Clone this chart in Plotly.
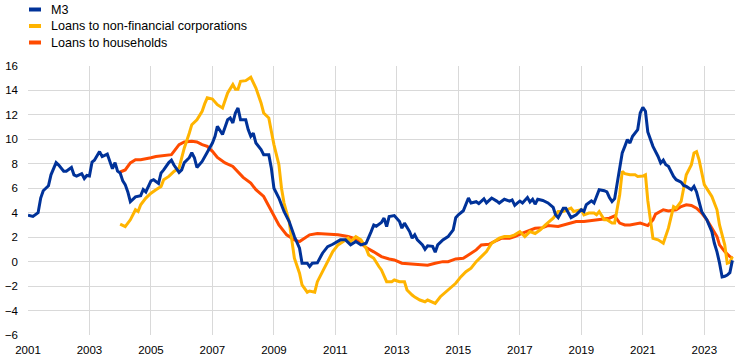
import plotly.graph_objects as go

# ---------------- data (annual growth rates, %) ----------------
m3_dates = ["2001-01","2001-03","2001-05","2001-06","2001-07","2001-09","2001-10","2001-12",
            "2002-01","2002-03","2002-04","2002-06","2002-07","2002-08","2002-10","2002-11","2002-12",
            "2003-01","2003-02","2003-03","2003-05","2003-06","2003-08","2003-09","2003-10","2003-11","2003-12",
            "2004-01","2004-02","2004-03","2004-04","2004-05","2004-07","2004-09","2004-10","2004-11",
            "2005-01","2005-02","2005-04","2005-05","2005-06","2005-08","2005-09","2005-10","2005-12",
            "2006-01","2006-02","2006-04","2006-05","2006-06","2006-07","2006-09","2006-10",
            "2007-01","2007-02","2007-03","2007-05","2007-06","2007-07","2007-08","2007-09","2007-10","2007-11","2007-12",
            "2008-02","2008-03","2008-04","2008-05","2008-06","2008-08","2008-09","2008-11","2008-12",
            "2009-01","2009-03","2009-05","2009-07","2009-09","2009-11","2009-12",
            "2010-02","2010-03","2010-04","2010-06","2010-08","2010-10","2010-12",
            "2011-03","2011-05","2011-07","2011-09","2011-11",
            "2012-01","2012-03","2012-04","2012-05","2012-07","2012-08","2012-09","2012-10","2012-12",
            "2013-02","2013-03","2013-04","2013-06","2013-07","2013-08","2013-09","2013-11","2013-12",
            "2014-01","2014-03","2014-04","2014-05","2014-07","2014-09","2014-11","2014-12",
            "2015-01","2015-03","2015-04","2015-05","2015-06","2015-08","2015-09","2015-11","2015-12",
            "2016-02","2016-04","2016-05","2016-07","2016-09","2016-10","2016-11","2016-12",
            "2017-01","2017-02","2017-04","2017-05","2017-06","2017-07","2017-08","2017-10","2017-12",
            "2018-02","2018-03","2018-04","2018-06","2018-07","2018-09","2018-11",
            "2019-01","2019-02","2019-03","2019-05","2019-06","2019-07","2019-08","2019-10","2019-11","2019-12",
            "2020-01","2020-02","2020-04","2020-05","2020-06","2020-07","2020-08","2020-09","2020-11","2020-12",
            "2021-01","2021-02","2021-03","2021-05","2021-07","2021-08","2021-09","2021-10","2021-11",
            "2022-01","2022-02","2022-04","2022-05","2022-06","2022-08","2022-09","2022-10","2022-11","2022-12",
            "2023-02","2023-04","2023-05","2023-06","2023-07","2023-08","2023-09","2023-10","2023-11","2023-12"]
m3_values = [3.8,3.7,4.0,5.2,5.8,6.2,7.1,8.1,
             7.9,7.4,7.4,7.7,7.1,7.0,7.2,6.8,7.05,
             7.0,8.15,8.3,9.0,8.6,8.8,8.1,7.6,8.1,7.4,
             7.25,6.6,6.3,5.7,4.9,5.3,5.4,5.9,5.7,
             6.6,6.7,6.4,7.25,7.5,8.1,8.3,7.9,7.3,
             7.5,8.1,8.5,8.9,8.5,7.7,8.2,8.6,
             9.7,10.25,11.07,10.4,11.07,11.6,11.75,11.34,12.16,12.57,11.6,
             11.6,10.8,10.25,10.5,9.7,9.16,8.75,8.75,7.65,
             6.0,5.2,4.1,3.28,2.05,1.1,-0.13,
             -0.13,-0.4,-0.13,-0.1,0.69,1.23,1.42,
             1.78,1.78,1.37,1.64,1.37,
             1.5,2.46,3.0,2.9,3.2,3.56,2.87,3.69,3.77,
             3.28,2.74,3.15,2.46,1.92,2.19,1.78,1.37,1.01,
             1.3,1.25,0.77,1.37,1.78,2.05,2.6,3.6,
             3.83,4.16,4.65,5.2,4.79,4.9,4.75,5.14,4.8,
             5.2,4.95,4.79,5.1,4.95,5.05,4.6,4.79,
             4.95,4.8,5.25,4.88,5.1,4.7,5.1,5.0,4.8,
             4.43,3.83,3.6,4.37,4.37,3.6,3.83,
             4.24,4.1,4.65,4.97,4.8,5.33,5.88,5.8,5.7,5.25,
             4.92,5.15,7.65,8.89,9.43,9.98,9.7,10.25,10.8,12.16,
             12.62,12.3,10.6,9.43,8.6,8.07,8.3,7.93,7.8,
             6.97,6.7,6.5,6.23,6.15,5.88,6.15,5.7,4.79,4.1,
             3.42,2.46,1.5,0.8,-0.1,-1.25,-1.2,-1.1,-0.9,0.1]

nfc_dates = ["2004-01","2004-03","2004-05","2004-07","2004-08","2004-09","2004-11",
             "2005-01","2005-03","2005-05","2005-06","2005-08","2005-10","2005-12",
             "2006-01","2006-02","2006-04","2006-05","2006-07","2006-09","2006-10","2006-11",
             "2007-01","2007-03","2007-05","2007-07","2007-09","2007-10","2007-11","2007-12",
             "2008-02","2008-04","2008-06","2008-08","2008-09","2008-11","2008-12",
             "2009-01","2009-03","2009-04","2009-05","2009-07","2009-08","2009-09","2009-11","2009-12",
             "2010-02","2010-03","2010-05","2010-06","2010-08","2010-10","2010-12",
             "2011-02","2011-04","2011-06","2011-07","2011-09","2011-11",
             "2012-01","2012-02","2012-04","2012-06","2012-07","2012-09","2012-11","2012-12",
             "2013-02","2013-04","2013-05","2013-07","2013-08","2013-10","2013-12",
             "2014-01","2014-03","2014-04","2014-06","2014-08","2014-10","2014-12",
             "2015-02","2015-04","2015-06","2015-08","2015-10","2015-12",
             "2016-02","2016-03","2016-05","2016-07","2016-09","2016-11",
             "2017-01","2017-03","2017-05","2017-07","2017-09","2017-11",
             "2018-01","2018-02","2018-04","2018-06","2018-09","2018-10",
             "2019-01","2019-02","2019-04","2019-06","2019-07","2019-08","2019-10","2019-11",
             "2020-01","2020-02","2020-04","2020-05","2020-06","2020-08","2020-10","2020-11",
             "2021-01","2021-02","2021-03","2021-04","2021-05","2021-07","2021-09","2021-11","2021-12",
             "2022-01","2022-02","2022-04","2022-05","2022-06","2022-08","2022-09","2022-10","2022-11",
             "2023-01","2023-02","2023-04","2023-06","2023-07","2023-09","2023-10","2023-11","2023-12"]
nfc_values = [3.07,2.87,3.42,4.24,4.1,4.65,5.2,
              5.6,5.88,6.15,6.7,6.97,7.38,7.65,
              8.48,9.3,10.5,11.2,11.6,12.3,12.9,13.4,
              13.3,12.84,12.57,13.8,14.48,14.1,14.1,14.75,
              14.8,15.08,14.2,12.98,12.16,11.75,10.66,
              9.57,7.93,6.0,4.79,3.28,1.78,0.28,-0.95,-1.91,
              -2.5,-2.4,-2.5,-1.64,-0.82,0.0,0.82,
              1.37,1.64,1.92,1.64,2.05,1.78,
              1.1,0.55,0.28,-0.4,-0.68,-1.64,-1.64,-1.5,
              -1.64,-1.64,-2.32,-2.73,-2.9,-3.14,-3.28,
              -3.14,-3.3,-3.41,-2.87,-2.51,-2.18,-1.77,
              -1.23,-0.82,-0.54,0.0,0.41,0.82,
              1.5,1.64,1.92,2.05,2.05,2.19,
              2.46,2.05,2.46,2.3,2.6,3.0,
              3.42,3.56,4.1,4.1,4.37,4.1,
              4.24,3.83,3.97,3.97,3.83,4.1,3.42,3.42,
              3.15,3.15,5.47,7.38,7.2,7.1,7.1,6.97,
              7.0,7.1,5.0,3.3,1.9,1.78,1.5,2.74,3.56,
              4.5,4.37,4.92,6.0,7.1,7.93,8.89,9.0,8.3,
              6.3,6.0,5.33,4.24,3.0,1.37,-0.13,-0.05,0.41]

hh_dates = ["2004-01","2004-03","2004-05","2004-07","2004-09","2004-11",
            "2005-01","2005-03","2005-05","2005-07","2005-09","2005-10","2005-12",
            "2006-02","2006-05","2006-07","2006-09","2006-11",
            "2007-01","2007-03","2007-06","2007-09","2007-11",
            "2008-01","2008-04","2008-06","2008-09","2008-11",
            "2009-01","2009-03","2009-06","2009-09","2009-11",
            "2010-01","2010-03","2010-06","2010-10",
            "2011-02","2011-06","2011-08","2011-11",
            "2012-01","2012-04","2012-07","2012-10","2012-12",
            "2013-03","2013-07","2013-11",
            "2014-01","2014-04","2014-07","2014-09","2014-12",
            "2015-03","2015-05","2015-08","2015-10",
            "2016-01","2016-03","2016-06","2016-09","2016-11",
            "2017-02","2017-05","2017-07","2017-10","2017-12",
            "2018-04","2018-06","2018-09","2018-11",
            "2019-02","2019-05","2019-07","2019-10","2019-12",
            "2020-02","2020-04","2020-06","2020-08","2020-12",
            "2021-02","2021-03","2021-05","2021-06","2021-09","2021-11",
            "2022-02","2022-04","2022-06","2022-08","2022-10","2022-12",
            "2023-02","2023-04","2023-06","2023-07","2023-09","2023-11","2023-12"]
hh_values = [7.33,7.5,8.07,8.33,8.33,8.4,
             8.5,8.6,8.65,8.75,8.75,9.02,9.57,
             9.79,9.84,9.79,9.57,9.43,
             9.02,8.52,8.07,7.79,7.38,
             6.89,6.42,5.88,5.33,4.5,
             3.69,3.0,2.19,1.78,1.64,
             1.92,2.19,2.3,2.25,
             2.19,2.05,1.92,1.5,
             1.15,0.8,0.41,0.22,0.14,
             -0.13,-0.2,-0.27,
             -0.3,-0.13,0.0,0.0,0.22,
             0.27,0.55,0.96,1.37,
             1.42,1.64,1.92,1.92,2.05,
             2.33,2.6,2.73,2.78,2.95,
             2.87,3.0,3.15,3.28,
             3.28,3.35,3.42,3.47,3.55,
             3.74,3.15,3.0,3.0,3.15,
             3.0,2.95,3.42,3.88,4.24,4.15,
             4.24,4.5,4.65,4.6,4.37,3.97,
             3.42,2.74,2.05,1.37,0.82,0.41,0.3]

series_names = ["M3", "Loans to non-financial corporations", "Loans to households"]
series_colors = ["#003299", "#FFB400", "#FF4B00"]
y_ticks = [-6, -4, -2, 0, 2, 4, 6, 8, 10, 12, 14, 16]

# ---------------- layout constants ----------------
W, H = 745, 362
ML, MR, MT, MB = 28, 10, 66, 27
PW, PH = W - ML - MR, H - MT - MB
FONT = "Arial, Liberation Sans, sans-serif"


def px_to_paper(px, py):
    return (px - ML) / PW, (H - MB - py) / PH


# ---------------- figure ----------------
fig = go.Figure()
series = [(m3_dates, m3_values), (nfc_dates, nfc_values), (hh_dates, hh_values)]
# draw households first so M3 sits on top, as in the reference
for idx in [2, 1, 0]:
    d, v = series[idx]
    fig.add_trace(go.Scatter(x=d, y=v, mode="lines", name=series_names[idx],
                             line=dict(color=series_colors[idx], width=3),
                             showlegend=False, hoverinfo="x+y"))

# legend drawn at the top-left: short coloured swatch + label
legend_rows_px = [9.5, 26.0, 42.5]
annotations, shapes = [], []
for i, name in enumerate(series_names):
    sx0, sy = px_to_paper(29, legend_rows_px[i])
    sx1, _ = px_to_paper(41, legend_rows_px[i])
    tx, _ = px_to_paper(49, legend_rows_px[i])
    shapes.append(dict(type="line", xref="paper", yref="paper", x0=sx0, x1=sx1, y0=sy, y1=sy,
                       line=dict(color=series_colors[i], width=4)))
    annotations.append(dict(text=name, xref="paper", yref="paper", x=tx, y=sy,
                            xanchor="left", yanchor="middle", showarrow=False,
                            font=dict(family=FONT, size=12.6, color="#000000")))

grid = "#d9d9d9"
fig.update_layout(
    width=W, height=H,
    margin=dict(l=ML, r=MR, t=MT, b=MB, autoexpand=False),
    paper_bgcolor="white", plot_bgcolor="white",
    font=dict(family=FONT, size=12, color="#000000"),
    showlegend=False,
    xaxis=dict(type="date", range=["2001-01-01", "2024-01-01"],
               tick0="2001-01-01", dtick="M24", tickformat="%Y",
               tickfont=dict(size=11.5),
               showgrid=True, gridcolor=grid, gridwidth=1, zeroline=False,
               showline=False, ticks="", ticklabelstandoff=6),
    yaxis=dict(range=[-6, 16], tickvals=y_ticks, tickfont=dict(size=11.5),
               showgrid=True, gridcolor=grid, gridwidth=1, zeroline=False,
               showline=False, ticks="", ticklabelstandoff=9),
    annotations=annotations,
    shapes=shapes,
)

fig.write_html("out.html", config={"displayModeBar": False},
               post_script="document.body.style.margin='0';")
